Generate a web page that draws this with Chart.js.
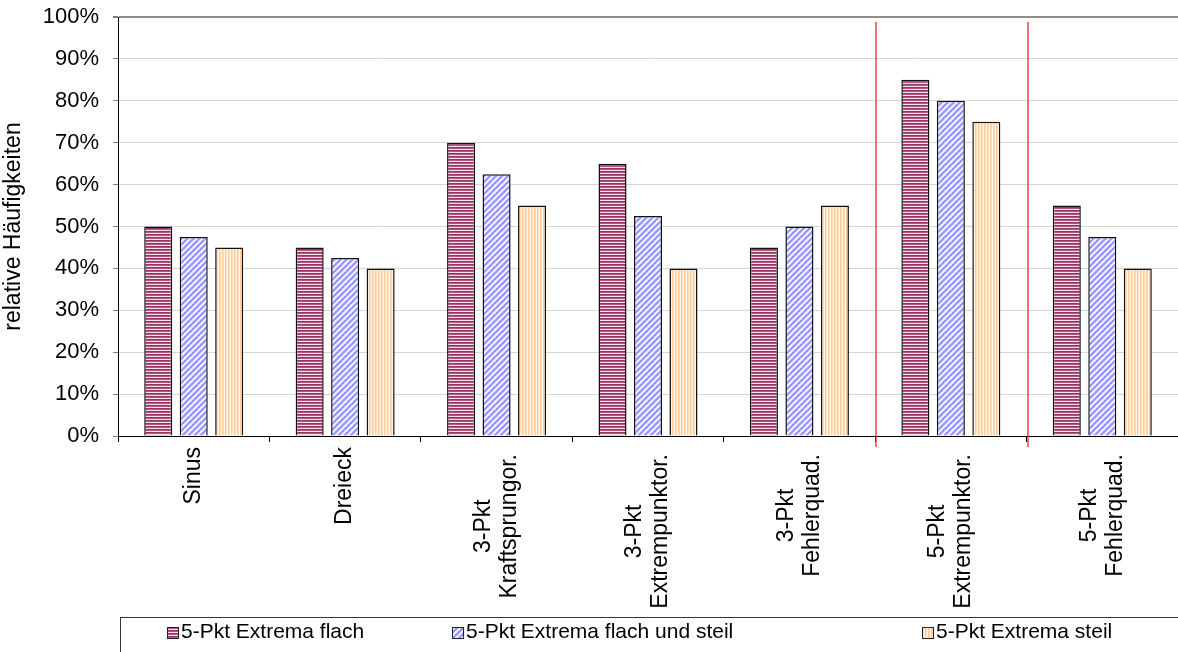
<!DOCTYPE html>
<html>
<head>
<meta charset="utf-8">
<script src="https://cdn.jsdelivr.net/npm/chart.js@4"></script>
<style>
    html, body { margin: 0; padding: 0; background: #fff; overflow: hidden; }
    #wrap { position: relative; width: 1178px; height: 652px; }
    #legendBox {
        position: absolute; left: 120px; top: 617px; width: 1100px; height: 60px;
        border: 1px solid #333; box-sizing: border-box;
        font-family: 'Liberation Sans', Arial, sans-serif; font-size: 21px; color: #000;
    }
    .item { position: absolute; top: 0; height: 26px; line-height: 26px; white-space: nowrap; }
    .item canvas { position: absolute; left: 0; top: 9px; }
    .item span { position: absolute; left: 14px; top: 0; }
</style>
</head>
<body>
<div id="wrap">
    <canvas id="chart"></canvas>
    <div id="legendBox"></div>
</div>
<script>
// ===========================
// DATOS
// ===========================
const categories = [
    ['Sinus'],
    ['Dreieck'],
    ['3-Pkt', 'Kraftsprungor.'],
    ['3-Pkt', 'Extrempunktor.'],
    ['3-Pkt', 'Fehlerquad.'],
    ['5-Pkt', 'Extrempunktor.'],
    ['5-Pkt', 'Fehlerquad.']
];
const seriesNames = ['5-Pkt Extrema flach', '5-Pkt Extrema flach und steil', '5-Pkt Extrema steil'];
const valuesFlach = [50, 45, 70, 65, 45, 85, 55];
const valuesFlachSteil = [47.5, 42.5, 62.5, 52.5, 50, 80, 47.5];
const valuesSteil = [45, 40, 55, 40, 55, 75, 40];
const yTicks = [0, 10, 20, 30, 40, 50, 60, 70, 80, 90, 100];
// separadores rojos entre estas categorías (índice de la categoría a la derecha)
const separators = [5, 6];

const FONT = "'Liberation Sans', Arial, sans-serif";

// ===========================
// PATRONES DE RELLENO
// ===========================
function makePatternCanvas(kind) {
    const c = document.createElement('canvas');
    const g = c.getContext('2d');
    if (kind === 'horizontal') {
        c.width = 4; c.height = 3;
        g.fillStyle = '#f3e2ea'; g.fillRect(0, 0, 4, 3);
        g.fillStyle = '#993366'; g.fillRect(0, 0, 4, 1);
        g.fillStyle = '#b2577f'; g.fillRect(0, 1, 4, 1);
    } else if (kind === 'diagonal') {
        c.width = 6; c.height = 6;
        g.fillStyle = '#ffffff'; g.fillRect(0, 0, 6, 6);
        g.strokeStyle = '#9999ff'; g.lineWidth = 2.4;
        [[-6, 6, 6, -6], [0, 6, 6, 0], [0, 12, 12, 0]].forEach(([a, b, cc, d]) => {
            g.beginPath(); g.moveTo(a, b); g.lineTo(cc, d); g.stroke();
        });
    } else {
        c.width = 3; c.height = 4;
        g.fillStyle = '#fff6ec'; g.fillRect(0, 0, 3, 4);
        g.fillStyle = '#ffcc99'; g.fillRect(0, 0, 1, 4);
        g.fillStyle = '#ffdcb8'; g.fillRect(1, 0, 1, 4);
    }
    return c;
}

const mainCtx = document.getElementById('chart').getContext('2d');
const kinds = ['horizontal', 'diagonal', 'vertical'];
const patterns = kinds.map(k => mainCtx.createPattern(makePatternCanvas(k), 'repeat'));

// ===========================
// PLUGINS
// ===========================
const separatorPlugin = {
    id: 'separators',
    afterDatasetsDraw(chart) {
        const x = chart.scales.x;
        const y = chart.scales.y;
        const ctx = chart.ctx;
        ctx.save();
        ctx.strokeStyle = '#e8262b';
        ctx.lineWidth = 1.3;
        separators.forEach(i => {
            const px = Math.round((x.getPixelForValue(i - 1) + x.getPixelForValue(i)) / 2) + 1;
            ctx.beginPath();
            ctx.moveTo(px, y.getPixelForValue(100) + 5);
            ctx.lineTo(px, y.bottom + 11);
            ctx.stroke();
        });
        ctx.restore();
    }
};

// etiquetas del eje x giradas, líneas centradas
const xLabelPlugin = {
    id: 'xLabels',
    afterDraw(chart) {
        const x = chart.scales.x;
        const ctx = chart.ctx;
        const lh = 26;
        ctx.save();
        ctx.font = '23px ' + FONT;
        ctx.fillStyle = '#000';
        ctx.textAlign = 'center';
        ctx.textBaseline = 'middle';
        categories.forEach((lines, i) => {
            const maxW = Math.max(...lines.map(l => ctx.measureText(l).width));
            const start = x.top + 11 + (lines.length - 1) * 7;
            ctx.save();
            ctx.translate(x.getPixelForValue(i), start + maxW / 2);
            ctx.rotate(-Math.PI / 2);
            lines.forEach((line, j) => {
                ctx.fillText(line, 0, (j - (lines.length - 1) / 2) * lh);
            });
            ctx.restore();
        });
        ctx.restore();
    }
};

// ===========================
// GRÁFICO
// ===========================
const datasetValues = [valuesFlach, valuesFlachSteil, valuesSteil];

new Chart(mainCtx, {
    type: 'bar',
    data: {
        labels: categories,
        datasets: datasetValues.map((vals, i) => ({
            label: seriesNames[i],
            data: vals,
            backgroundColor: patterns[i],
            borderColor: '#111',
            borderWidth: 1.5,
            categoryPercentage: 0.703,
            barPercentage: 0.79
        }))
    },
    options: {
        responsive: true,
        maintainAspectRatio: false,
        animation: false,
        layout: { padding: { top: 17, right: 0, bottom: 0, left: 0 } },
        plugins: {
            legend: { display: false },
            tooltip: { enabled: false }
        },
        scales: {
            x: {
                ticks: { display: false },
                grid: {
                    offset: true,
                    drawOnChartArea: false,
                    drawTicks: true,
                    tickLength: 6,
                    tickColor: '#000'
                },
                border: { color: '#000', width: 1 },
                afterFit(scale) { scale.height = 216; }
            },
            y: {
                min: 0,
                max: 100,
                afterBuildTicks(scale) { scale.ticks = yTicks.map(v => ({ value: v })); },
                ticks: {
                    callback: v => v + '%',
                    color: '#000',
                    font: { family: FONT, size: 22 },
                    padding: 14
                },
                grid: {
                    color: c => (c.tick && c.tick.value === 100) ? '#8c8c8c' : '#d6d6d6',
                    lineWidth: c => (c.tick && c.tick.value === 100) ? 2 : 1,
                    tickLength: 5,
                    tickColor: '#808080'
                },
                border: { color: '#000', width: 1 },
                title: {
                    display: true,
                    text: 'relative Häufigkeiten',
                    color: '#000',
                    font: { family: FONT, size: 23 },
                    padding: { top: 0, bottom: 0 }
                },
                afterFit(scale) {
                    scale.width = 118;
                    scale.paddingTop = 0;
                    scale.paddingBottom = 0;
                }
            }
        }
    },
    plugins: [separatorPlugin, xLabelPlugin]
});

// ===========================
// LEYENDA
// ===========================
const legendLefts = [167, 452, 922];
const legendBox = document.getElementById('legendBox');
seriesNames.forEach((name, i) => {
    const item = document.createElement('div');
    item.className = 'item';
    item.style.left = (legendLefts[i] - 121) + 'px';
    const sw = document.createElement('canvas');
    sw.width = 12; sw.height = 12;
    const g = sw.getContext('2d');
    g.fillStyle = g.createPattern(makePatternCanvas(kinds[i]), 'repeat');
    g.fillRect(0, 0, 12, 12);
    g.strokeStyle = '#222';
    g.lineWidth = 1;
    g.strokeRect(0.5, 0.5, 11, 11);
    const label = document.createElement('span');
    label.textContent = name;
    item.appendChild(sw);
    item.appendChild(label);
    legendBox.appendChild(item);
});
</script>
</body>
</html>
